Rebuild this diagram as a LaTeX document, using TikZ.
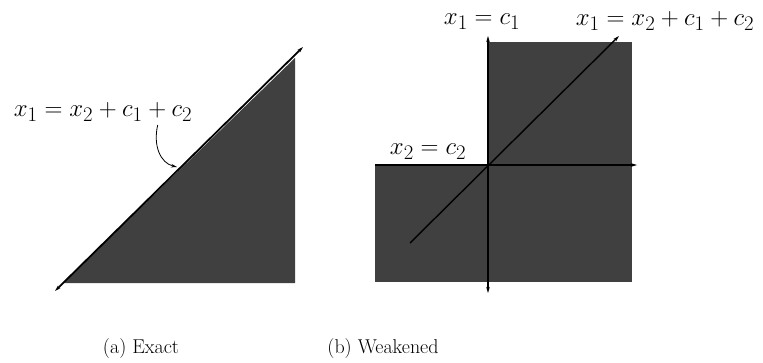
\documentclass[tikz,border=0pt]{standalone}
\usetikzlibrary{arrows.meta}
\begin{document}
\begin{tikzpicture}[x=1pt,y=-1pt,
  region/.style={fill=black!75},
  droite/.style={line width=1.4pt},
  pointe/.style={-{Stealth[length=6pt,width=3.5pt]}},
  deuxpointes/.style={{Stealth[length=6pt,width=3.5pt]}-{Stealth[length=6pt,width=3.5pt]}},
  eq/.style={font=\fontsize{29}{31}\selectfont},
  legende/.style={font=\fontsize{20}{22}\selectfont}]
\useasboundingbox (0,0) rectangle (763,362);

% Exact
\fill[region] (63,283) -- (295,58) -- (295,283) -- cycle;
\coordinate (basA) at (55,291);
\coordinate (hautA) at (303,47);
\draw[droite,line width=1.8pt,deuxpointes] (basA) -- (hautA);

\node[eq] (eqA) at (103,112) {$x_1 = x_2 + c_1 + c_2$};
\coordinate (piedA) at (177,167);
\draw[line width=0.8pt,pointe] ([xshift=-38pt]eqA.south east)
  .. controls (153,145) and (160,163) .. (piedA);

\node[legende] (legA) at (141,349) {(a) Exact};

% Weakened
\fill[region] (488,42) rectangle (632,165);
\fill[region] (375,165) rectangle (632,282);

\coordinate (basV) at (488,293);
\coordinate (hautV) at (488,36);
\coordinate (gaucheH) at (375,165);
\coordinate (droiteH) at (637,165);
\coordinate (basD) at (410,243);
\coordinate (hautD) at (619,36);

\draw[droite,deuxpointes] (basV) -- (hautV);
\draw[droite,pointe] (gaucheH) -- (droiteH);
\draw[droite,pointe] (basD) -- (hautD);

\node[eq] (eqV) at (482,22) {$x_1 = c_1$};
\node[eq] (eqH) at (428,152) {$x_2 = c_2$};
\node[eq] (eqD) at (665,21) {$x_1 = x_2 + c_1 + c_2$};

\node[legende] (legB) at (383,349) {(b) Weakened};

\end{tikzpicture}
\end{document}
